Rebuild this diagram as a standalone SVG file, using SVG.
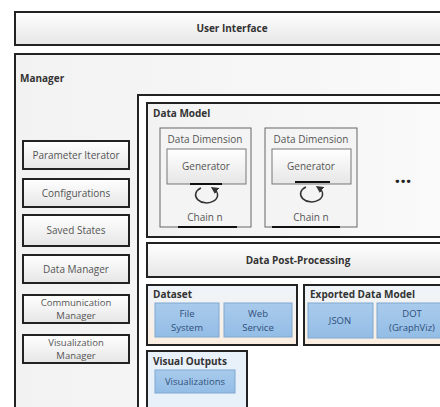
<svg xmlns="http://www.w3.org/2000/svg" width="440" height="407" viewBox="0 0 440 407">
<defs>
<linearGradient id="g" x1="0" y1="0" x2="0" y2="1"><stop offset="0" stop-color="#ffffff"/><stop offset="1" stop-color="#e6e6e6"/></linearGradient>
<linearGradient id="gh" x1="0" y1="0" x2="1" y2="0"><stop offset="0" stop-color="#f2f2f2"/><stop offset="1" stop-color="#fafafa"/></linearGradient>
<linearGradient id="ds" x1="0" y1="0" x2="0" y2="1"><stop offset="0" stop-color="#eef4fb"/><stop offset="1" stop-color="#fbeee0"/></linearGradient>
<linearGradient id="bl" x1="0" y1="0" x2="0" y2="1"><stop offset="0" stop-color="#a9cbec"/><stop offset="1" stop-color="#93bde6"/></linearGradient>
<marker id="ah" viewBox="0 0 10 10" refX="5" refY="5" markerWidth="5" markerHeight="5" orient="auto"><path d="M0,0 L10,5 L0,10 z" fill="#333"/></marker>
</defs>
<style>
.box{fill:url(#g);stroke:#222;stroke-width:2}
.cont{stroke:#222;stroke-width:2}
.blue{fill:url(#bl);stroke:#7fa8d0;stroke-width:1}
.t{font-family:"Open Sans","Liberation Sans",sans-serif;font-size:10px;fill:#555;text-anchor:middle}
.t2{font-family:"Open Sans","Liberation Sans",sans-serif;font-size:9.5px;fill:#555;text-anchor:middle}
.tb{font-family:"Open Sans","Liberation Sans",sans-serif;font-size:10px;font-weight:bold;fill:#333}
.tbl{font-family:"Open Sans","Liberation Sans",sans-serif;font-size:9.5px;fill:#2f4f7a;text-anchor:middle}
.dots{font-family:"Open Sans","Liberation Sans",sans-serif;font-size:20px;font-weight:bold;fill:#222;text-anchor:middle}
.dd{fill:#f4f4f4;stroke:#666;stroke-width:1}
</style>
<rect width="440" height="407" fill="#ffffff"/>
<g id="user-interface">
<rect x="15" y="12" width="435" height="33" class="box"/>
<text x="232" y="32" class="tb" text-anchor="middle">User Interface</text>
</g>
<g id="manager">
<rect x="15" y="54" width="435" height="370" fill="url(#gh)" class="cont"/>
<text x="20" y="82" class="tb">Manager</text>
</g>
<g id="parameter-iterator"><rect x="23" y="141" width="106" height="28" class="box"/><text x="76" y="159" class="t">Parameter Iterator</text></g>
<g id="configurations"><rect x="23" y="179" width="106" height="28" class="box"/><text x="76" y="197" class="t">Configurations</text></g>
<g id="saved-states"><rect x="23" y="215" width="106" height="31" class="box"/><text x="76" y="234" class="t">Saved States</text></g>
<g id="data-manager"><rect x="23" y="255" width="106" height="28" class="box"/><text x="76" y="273" class="t">Data Manager</text></g>
<g id="communication-manager"><rect x="23" y="295" width="106" height="28" class="box"/><text x="76" y="306" class="t2">Communication</text><text x="76" y="319" class="t2">Manager</text></g>
<g id="visualization-manager"><rect x="23" y="335" width="106" height="28" class="box"/><text x="76" y="346" class="t2">Visualization</text><text x="76" y="359" class="t2">Manager</text></g>
<g id="core">
<rect x="138" y="95" width="320" height="330" fill="#ffffff" class="cont"/>
</g>
<g id="data-model">
<rect x="147" y="103" width="305" height="134" fill="url(#gh)" class="cont"/>
<text x="153" y="117" class="tb">Data Model</text>
<text x="403" y="183" class="dots">...</text>
</g>
<g id="data-dimension-1">
<rect x="160" y="128" width="91" height="99" class="dd"/>
<text x="205" y="143" class="t">Data Dimension</text>
<rect x="167" y="149" width="79" height="35" fill="url(#g)" stroke="#777" stroke-width="1"/>
<text x="206" y="170" class="t">Generator</text>
<line x1="190" y1="184" x2="222" y2="184" stroke="#111" stroke-width="2"/>
<text x="205" y="221" class="t" fill="#333">Chain n</text>
<line x1="178" y1="227" x2="237" y2="227" stroke="#111" stroke-width="2"/>
</g>
<g id="data-dimension-2">
<rect x="265" y="128" width="92" height="99" class="dd"/>
<text x="311" y="143" class="t">Data Dimension</text>
<rect x="272" y="149" width="79" height="35" fill="url(#g)" stroke="#777" stroke-width="1"/>
<text x="311" y="170" class="t">Generator</text>
<line x1="295" y1="182" x2="330" y2="182" stroke="#111" stroke-width="2"/>
<text x="311" y="221" class="t" fill="#333">Chain n</text>
<line x1="272" y1="227" x2="340" y2="227" stroke="#111" stroke-width="2"/>
</g>
<g id="connectors" fill="none" stroke="#333" stroke-width="1.5">
<path d="M201,188 A11,8 0 1,0 214,189" marker-end="url(#ah)"/>
<path d="M306,187 A11,8 0 1,0 319,188" marker-end="url(#ah)"/>
</g>
<g id="data-post-processing">
<rect x="147" y="243" width="305" height="34" class="box"/>
<text x="298" y="264" class="tb" text-anchor="middle">Data Post-Processing</text>
</g>
<g id="dataset">
<rect x="147" y="285" width="150" height="60" fill="url(#ds)" class="cont"/>
<text x="153" y="298" class="tb">Dataset</text>
</g>
<g id="file-system"><rect x="155" y="303" width="64" height="34" class="blue"/><text x="187" y="317" class="tbl">File</text><text x="187" y="331" class="tbl">System</text></g>
<g id="web-service"><rect x="224" y="303" width="68" height="34" class="blue"/><text x="258" y="317" class="tbl">Web</text><text x="258" y="331" class="tbl">Service</text></g>
<g id="exported-data-model">
<rect x="304" y="285" width="150" height="60" fill="url(#ds)" class="cont"/>
<text x="310" y="298" class="tb">Exported Data Model</text>
</g>
<g id="json"><rect x="308" y="303" width="65" height="35" class="blue"/><text x="340" y="324" class="tbl">JSON</text></g>
<g id="dot"><rect x="377" y="303" width="70" height="35" class="blue"/><text x="412" y="317" class="tbl">DOT</text><text x="412" y="331" class="tbl">(GraphViz)</text></g>
<g id="visual-outputs">
<rect x="147" y="351" width="100" height="70" fill="#e8f0fa" class="cont"/>
<text x="153" y="365" class="tb">Visual Outputs</text>
</g>
<g id="visualizations"><rect x="155" y="370" width="80" height="23" class="blue"/><text x="195" y="385" class="tbl">Visualizations</text></g>
</svg>
